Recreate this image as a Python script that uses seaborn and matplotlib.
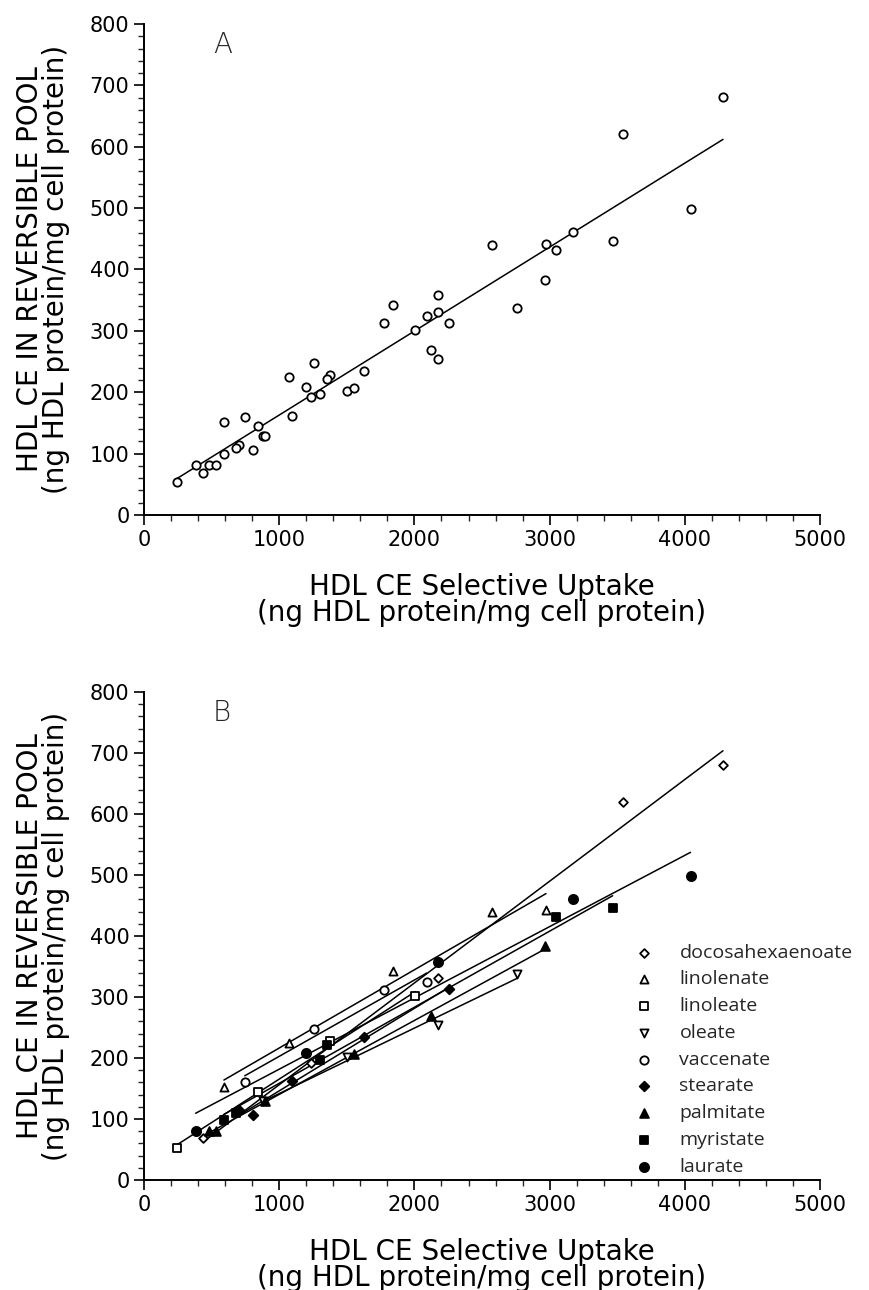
import numpy as np
import pandas as pd
import seaborn as sns
import matplotlib.pyplot as plt
from matplotlib.ticker import MultipleLocator

# HDL CE selective uptake (x) vs HDL CE in reversible pool (y), per fatty acid
dha_x = [436, 1233, 2172, 3539, 4282]
dha_y = [68, 192, 331, 620, 681]
linolenate_x = [591, 1071, 1841, 2574, 2973]
linolenate_y = [152, 225, 342, 440, 442]
linoleate_x = [245, 843, 1373, 2007]
linoleate_y = [53, 145, 228, 302]
oleate_x = [882, 1505, 2172, 2762]
oleate_y = [129, 202, 254, 338]
vaccenate_x = [745, 1260, 1777, 2091]
vaccenate_y = [160, 248, 312, 325]
stearate_x = [699, 804, 1096, 1625, 2252]
stearate_y = [114, 106, 162, 235, 313]
palmitate_x = [480, 529, 897, 1556, 2120, 2963]
palmitate_y = [81, 81, 129, 207, 269, 383]
myristate_x = [591, 681, 1301, 1351, 3047, 3466]
myristate_y = [99, 109, 197, 222, 431, 446]
laurate_x = [382, 1201, 2172, 3176, 4042]
laurate_y = [81, 208, 358, 461, 498]

acids = ['docosahexaenoate', 'linolenate', 'linoleate', 'oleate', 'vaccenate',
         'stearate', 'palmitate', 'myristate', 'laurate']
xs = [dha_x, linolenate_x, linoleate_x, oleate_x, vaccenate_x,
      stearate_x, palmitate_x, myristate_x, laurate_x]
ys = [dha_y, linolenate_y, linoleate_y, oleate_y, vaccenate_y,
      stearate_y, palmitate_y, myristate_y, laurate_y]

# marker, face colour, size
styles = {
    'docosahexaenoate': ('D', 'white', 20),
    'linolenate': ('^', 'white', 34),
    'linoleate': ('s', 'white', 32),
    'oleate': ('v', 'white', 34),
    'vaccenate': ('o', 'white', 36),
    'stearate': ('D', 'black', 24),
    'palmitate': ('^', 'black', 40),
    'myristate': ('s', 'black', 40),
    'laurate': ('o', 'black', 44),
}

df = pd.concat([pd.DataFrame({'uptake': x, 'pool': y, 'acid': a})
                for a, x, y in zip(acids, xs, ys)], ignore_index=True)

sns.set_style('ticks')
plt.rcParams['font.family'] = ['DejaVu Sans']

fig = plt.figure(figsize=(8.69, 12.9), dpi=100)
ax_a = fig.add_axes([0.1657, 0.6008, 0.778, 0.3806])
ax_b = fig.add_axes([0.1657, 0.0853, 0.778, 0.3783])

# Panel A: all data pooled
sns.regplot(data=df, x='uptake', y='pool', ax=ax_a, ci=None, color='black',
            marker='o',
            scatter_kws={'facecolors': 'white', 'edgecolors': 'black', 's': 36,
                         'linewidths': 1.3, 'alpha': 1, 'zorder': 3},
            line_kws={'linewidth': 1.1})

# Panel B: one regression per fatty acid
for acid in acids:
    sub = df[df['acid'] == acid]
    m, fc, s = styles[acid]
    sns.regplot(data=sub, x='uptake', y='pool', ax=ax_b, ci=None, color='black',
                marker=m, label=acid,
                scatter_kws={'facecolors': fc, 'edgecolors': 'black', 's': s,
                             'linewidths': 1.3, 'alpha': 1, 'zorder': 3},
                line_kws={'linewidth': 1.1})

for ax, letter in [(ax_a, 'A'), (ax_b, 'B')]:
    ax.set_xlim(0, 5000)
    ax.set_ylim(0, 800)
    ax.xaxis.set_major_locator(MultipleLocator(1000))
    ax.xaxis.set_minor_locator(MultipleLocator(200))
    ax.yaxis.set_major_locator(MultipleLocator(100))
    ax.yaxis.set_minor_locator(MultipleLocator(20))
    ax.tick_params(which='major', direction='out', length=7, width=1.2,
                   labelsize=15, colors='black')
    ax.tick_params(which='minor', direction='out', length=4, width=1.0)
    sns.despine(ax=ax)
    for sp in ['left', 'bottom']:
        ax.spines[sp].set_linewidth(1.4)
        ax.spines[sp].set_color('black')
    ax.set_xlabel('HDL CE Selective Uptake\n(ng HDL protein/mg cell protein)',
                  fontsize=20, labelpad=17, linespacing=0.9, color='black')
    ax.set_ylabel('HDL CE IN REVERSIBLE POOL\n(ng HDL protein/mg cell protein)',
                  fontsize=20, labelpad=14, linespacing=0.9, color='black')
    ax.text(510, 765, letter, fontsize=20, fontweight='light', va='center')

ax_b.legend(loc='upper left', bbox_to_anchor=(0.70, 0.50), frameon=False,
            prop={'family': 'Open Sans', 'size': 14}, handletextpad=0.8,
            labelspacing=0.45, borderaxespad=0)

fig.savefig('out.png', dpi=100)
